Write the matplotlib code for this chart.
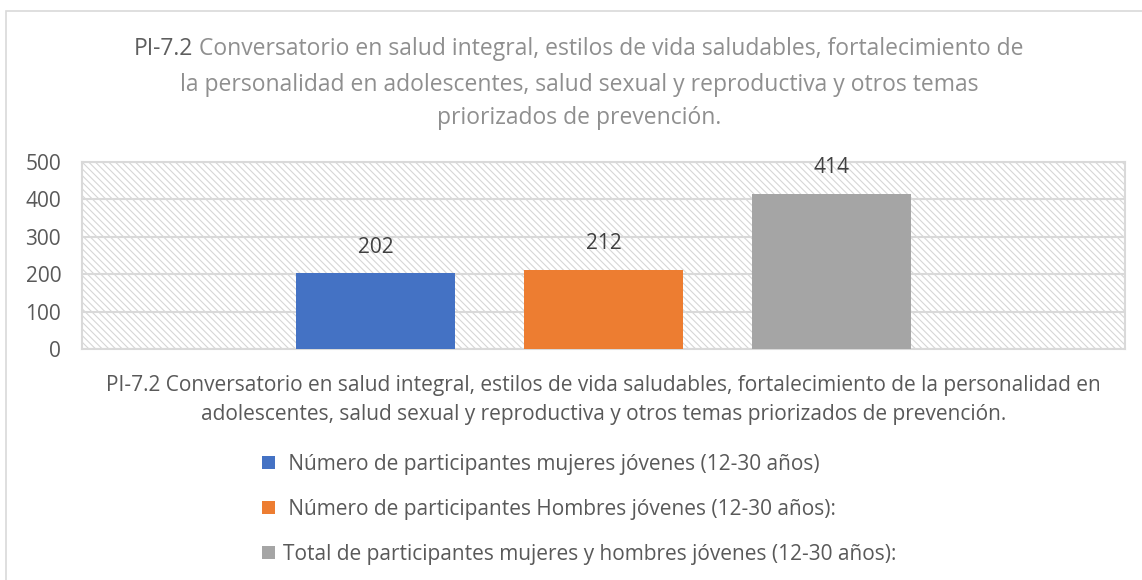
import matplotlib.pyplot as plt
from matplotlib.patches import Rectangle, Patch

# datos del indicador
categoria = ("PI-7.2 Conversatorio en salud integral, estilos de vida saludables, fortalecimiento de la personalidad en\n"
             "adolescentes, salud sexual y reproductiva y otros temas priorizados de prevención.")
series = [" Número de participantes mujeres jóvenes (12-30 años)",
          " Número de participantes Hombres jóvenes (12-30 años):",
          "Total de participantes mujeres y hombres jóvenes (12-30 años):"]
valores = [202, 212, 414]
colores = ["#4472C4", "#ED7D31", "#A5A5A5"]
yticks = [0, 100, 200, 300, 400, 500]
codigo = "PI-7.2"
titulo = ["Conversatorio en salud integral, estilos de vida saludables, fortalecimiento de",
          "la personalidad en adolescentes, salud sexual y reproductiva y otros temas",
          "priorizados de prevención."]

plt.rcParams['font.family'] = ['Open Sans', 'DejaVu Sans']
plt.rcParams['hatch.linewidth'] = 0.8

fig = plt.figure(figsize=(11.42, 5.8), dpi=100)
W, H = 1142, 580

# marco del grafico (sale por la derecha y por abajo)
fig.patches.append(Rectangle((5.5 / W, -0.5), 2, 1.5 - 11 / H, transform=fig.transFigure,
                             facecolor="none", edgecolor="#D9D9D9", linewidth=1.2))

ax = fig.add_axes([82 / W, 1 - 349 / H, (1125 - 82) / W, (349 - 162) / H])

# fondo rayado
ax.add_patch(Rectangle((0, 0), 1, 1, transform=ax.transAxes, facecolor="none",
                       edgecolor="#D6D6D6", linewidth=0, hatch="\\\\\\\\\\", zorder=0))

x = [0, 1, 2]
for i in range(len(valores)):
    ax.bar(x[i], valores[i], width=0.70, color=colores[i], zorder=3)
    ax.annotate(str(valores[i]), (x[i], valores[i]), xytext=(0, 19),
                textcoords="offset points", ha="center", va="center",
                fontsize=15, color="#404040")

ax.set_ylim(0, 500)
ax.set_xlim(-1.287, 3.287)
ax.set_yticks(yticks)
ax.grid(axis="y", color="#D9D9D9", linewidth=1.5, zorder=1)
ax.set_axisbelow(True)
for s in ax.spines.values():
    s.set_color("#D9D9D9")
    s.set_linewidth(1.5)
ax.tick_params(axis="y", length=0, pad=15, labelsize=15, labelcolor="#595959")
ax.set_xticks([1])
ax.set_xticklabels([categoria], fontsize=15, color="#595959", linespacing=1.45)
ax.tick_params(axis="x", length=0, pad=19)

# titulo: codigo en gris oscuro, resto en gris claro
cx = 0.507
ys = [1 - 55 / H, 1 - 91 / H, 1 - 124 / H]
tmp = fig.text(cx, ys[0], codigo + " " + titulo[0], fontsize=16.5, ha="center", va="baseline")
fig.canvas.draw()
bb = tmp.get_window_extent()
tmp.remove()
fig.text(bb.x0 / W, ys[0], codigo, fontsize=16.5, color="#5E5E5E", ha="left", va="baseline")
fig.text(bb.x1 / W, ys[0], titulo[0], fontsize=16.5, color="#8F8F8F", ha="right", va="baseline")
for t, yy in zip(titulo[1:], ys[1:]):
    fig.text(cx, yy, t, fontsize=16.5, color="#8F8F8F", ha="center", va="baseline")

handles = [Patch(facecolor=c) for c in colores]
fig.legend(handles, series, loc="upper left", bbox_to_anchor=(262 / W, 1 - 454 / H),
           frameon=False, fontsize=15, labelcolor="#595959",
           handlelength=0.63, handleheight=0.63, handletextpad=0.4, labelspacing=1.15,
           borderpad=0, borderaxespad=0)

fig.savefig("out.png", dpi=100, facecolor="white")
